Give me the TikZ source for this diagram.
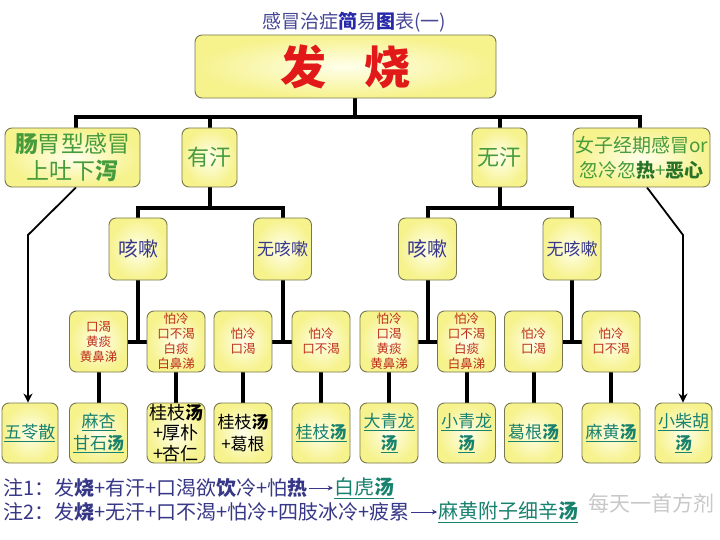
\documentclass[tikz,border=0pt]{standalone}
\usepackage{fontspec}
\setmainfont{Noto Sans CJK SC}
\usetikzlibrary{arrows.meta}
\definecolor{ttl}{RGB}{70,70,150}
\definecolor{ttlb}{RGB}{40,40,170}
\definecolor{fire}{RGB}{225,25,25}
\definecolor{grn}{RGB}{70,155,60}
\definecolor{dgrn}{RGB}{40,115,40}
\definecolor{purp}{RGB}{55,55,140}
\definecolor{sym}{RGB}{190,45,25}
\definecolor{tealx}{RGB}{25,130,110}
\definecolor{notec}{RGB}{55,55,135}
\definecolor{boxline}{RGB}{120,120,80}
\definecolor{boxin}{RGB}{255,255,235}
\definecolor{boxout}{RGB}{246,242,140}
\definecolor{wmark}{RGB}{200,200,200}
\newcommand{\ulx}[1]{\underline{#1}}
\pgfdeclarelayer{bg}
\pgfsetlayers{bg,main}
\begin{document}
\begin{tikzpicture}[x=1pt,y=-1pt,
  box/.style={draw=boxline, line width=0.9pt, rounded corners=7pt,
    inner color=boxin, outer color=boxout, align=center, inner sep=0pt},
  conn/.style={line width=4pt, line join=miter},
  arr/.style={line width=1.8pt, line join=miter, -{Stealth[length=9pt,width=9pt]}},
  lvtwo/.style={box, minimum height=59pt, text=grn},
  lvthree/.style={box, minimum width=58pt, minimum height=62pt, text=purp},
  lvfour/.style={box, minimum width=58pt, minimum height=61pt, text=sym,
    font=\fontsize{12.5}{15}\selectfont},
  lvfive/.style={box, minimum width=58pt, minimum height=60pt, text=tealx,
    font=\fontsize{17}{22}\selectfont},
  notetxt/.style={anchor=west, inner sep=1pt, text=notec, font=\fontsize{20}{22}\selectfont}]
\useasboundingbox (0,0) rectangle (720,540);
\begin{pgfonlayer}{bg}
\fill[white] (0,0) rectangle (720,540);
\end{pgfonlayer}

% title
\node[text=ttl, font=\fontsize{19}{22}\selectfont] (title) at (354,22)
  {感冒治症{\color{ttlb}\bfseries 简}易{\color{ttlb}\bfseries 图}表(一)};

% top box
\node[box, minimum width=301pt, minimum height=63pt, text=fire,
  font=\fontsize{46}{50}\selectfont\bfseries] (top) at (345.5,66.5) {发\hspace{38pt}烧};

% level 2
\node[lvtwo, minimum width=135pt, font=\fontsize{23}{27}\selectfont] (gi) at (72.5,157.5)
  {{\bfseries 肠}胃型感冒\\上吐下{\bfseries 泻}};
\node[lvtwo, minimum width=55pt, font=\fontsize{22}{26}\selectfont] (you) at (209.5,157.5) {有汗};
\node[lvtwo, minimum width=55pt, font=\fontsize{22}{26}\selectfont] (wu) at (499.5,157.5) {无汗};
\node[lvtwo, minimum width=137pt, font=\fontsize{19}{25}\selectfont] (nv) at (641.5,157.5)
  {女子经期感冒or\\忽冷忽{\color{dgrn}\bfseries 热}+{\color{dgrn}\bfseries 恶心}};

% level 3
\node[lvthree, font=\fontsize{20}{24}\selectfont] (k1) at (138,249) {咳嗽};
\node[lvthree, font=\fontsize{17}{20}\selectfont] (nk1) at (282.5,249) {无咳嗽};
\node[lvthree, font=\fontsize{20}{24}\selectfont] (k2) at (427.5,249) {咳嗽};
\node[lvthree, font=\fontsize{17}{20}\selectfont] (nk2) at (572,249) {无咳嗽};

% level 4
\node[lvfour] (sa) at (98.5,341.5) {口渴\\黄痰\\黄鼻涕};
\node[lvfour] (sb) at (176,341.5) {怕冷\\口不渴\\白痰\\白鼻涕};
\node[lvfour] (sc) at (243,341.5) {怕冷\\口渴};
\node[lvfour] (sd) at (321,341.5) {怕冷\\口不渴};
\node[lvfour] (se) at (389,341.5) {怕冷\\口渴\\黄痰\\黄鼻涕};
\node[lvfour] (sf) at (466.5,341.5) {怕冷\\口不渴\\白痰\\白鼻涕};
\node[lvfour] (sg) at (533.5,341.5) {怕冷\\口渴};
\node[lvfour] (sh) at (611,341.5) {怕冷\\口不渴};

% level 5
\node[lvfive, minimum width=56pt] (p0) at (30,433) {\ulx{五苓散}};
\node[lvfive] (p1) at (98.5,433) {\ulx{麻杏}\\\ulx{甘石{\bfseries 汤}}};
\node[lvfive, text=black, font=\fontsize{18}{20.5}\selectfont] (p2) at (176,433)
  {桂枝{\bfseries 汤}\\+厚朴\\+杏仁};
\node[lvfive, text=black] (p3) at (243,433) {桂枝{\bfseries 汤}\\+葛根};
\node[lvfive] (p4) at (321,433) {\ulx{桂枝{\bfseries 汤}}};
\node[lvfive] (p5) at (389,433) {\ulx{大青龙}\\\ulx{\bfseries 汤}};
\node[lvfive] (p6) at (466.5,433) {\ulx{小青龙}\\\ulx{\bfseries 汤}};
\node[lvfive] (p7) at (533.5,433) {\ulx{葛根{\bfseries 汤}}};
\node[lvfive] (p8) at (611,433) {\ulx{麻黄{\bfseries 汤}}};
\node[lvfive, minimum width=57pt] (p9) at (683.5,433) {\ulx{小柴胡}\\\ulx{\bfseries 汤}};

% watermark
\node[text=wmark, font=\fontsize{21}{23}\selectfont, anchor=west, inner sep=0pt] (wm) at (588,503) {每天一首方剂};

% notes
\node[notetxt] (n1a) at (2,488) {注1：发{\bfseries 烧}+有汗+口渴欲{\bfseries 饮}冷+怕{\bfseries 热}};
\node[notetxt, text=tealx] (n1b) at ([xshift=24pt]n1a.east) {\ulx{白虎{\bfseries 汤}}};
\node[notetxt] (n2a) at (2,512) {注2：发{\bfseries 烧}+无汗+口不渴+怕冷+四肢冰冷+疲累};
\node[notetxt, text=tealx] (n2b) at ([xshift=26pt]n2a.east) {\ulx{麻黄附子细辛{\bfseries 汤}}};
\draw[notec, line width=1pt, -{Stealth[length=5pt,width=5pt]}] (n1a.east) -- (n1b.west);
\draw[notec, line width=1pt, -{Stealth[length=5pt,width=5pt]}] (n2a.east) -- (n2b.west);

\coordinate (jt) at (355,117);
\coordinate (jl) at (209.5,208);
\coordinate (jr) at (499.5,208);
\coordinate (bendL) at (28,235);
\coordinate (bendR) at (683,235);

\begin{pgfonlayer}{bg}
% top bar
\draw[conn] (jt) -- (jt |- top.south);
\draw[conn] ([xshift=3.5pt]gi.north) |- (jt);
\draw[conn] ([xshift=-1.5pt]nv.north) |- (jt);
\draw[conn] (you.north) -- (you.north |- jt);
\draw[conn] (wu.north) -- (wu.north |- jt);
% level 3 bars
\draw[conn] (you.south) -- (jl);
\draw[conn] (k1.north) |- (jl);
\draw[conn] (nk1.north) |- (jl);
\draw[conn] (wu.south) -- (jr);
\draw[conn] (k2.north) |- (jr);
\draw[conn] (nk2.north) |- (jr);
% level 4 T
\draw[conn] (k1.south) -- (k1.south |- sa.east);
\draw[conn] (sa.east) -- (sb.west);
\draw[conn] (nk1.south) -- (nk1.south |- sc.east);
\draw[conn] (sc.east) -- (sd.west);
\draw[conn] (k2.south) -- (k2.south |- se.east);
\draw[conn] (se.east) -- (sf.west);
\draw[conn] (nk2.south) -- (nk2.south |- sg.east);
\draw[conn] (sg.east) -- (sh.west);
% level 5 drops
\draw[conn] (sa.south) -- (p1.north);
\draw[conn] (sb.south) -- (p2.north);
\draw[conn] (sc.south) -- (p3.north);
\draw[conn] (sd.south) -- (p4.north);
\draw[conn] (se.south) -- (p5.north);
\draw[conn] (sf.south) -- (p6.north);
\draw[conn] (sg.south) -- (p7.north);
\draw[conn] (sh.south) -- (p8.north);
% side arrows
\draw[arr] ([xshift=3.5pt]gi.south) -- (bendL) -- (bendL |- p0.north);
\draw[arr] ([xshift=5.5pt]nv.south) -- (bendR) -- (bendR |- p9.north);
\end{pgfonlayer}
\end{tikzpicture}
\end{document}
